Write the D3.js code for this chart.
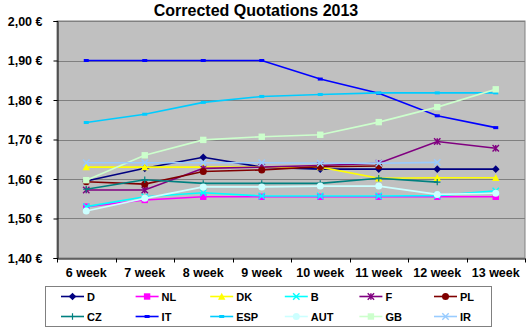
<!DOCTYPE html>
<html>
<head>
<meta charset="utf-8">
<script src="https://cdn.jsdelivr.net/npm/d3@7"></script>
<style>
  body { margin: 0; background: #fff; }
  text { font-family: "Liberation Sans", Arial, sans-serif; font-weight: bold; fill: #000; }
</style>
</head>
<body>
<div id="chart"></div>
<script>
// weekly quotations per country (EUR)
var weeks = ["6 week", "7 week", "8 week", "9 week", "10 week", "11 week", "12 week", "13 week"];
var yTicks = [1.40, 1.50, 1.60, 1.70, 1.80, 1.90, 2.00];

var D   = [1.595, 1.627, 1.655, 1.630, 1.625, 1.625, 1.625, 1.625];
var NL  = [1.530, 1.547, 1.555, 1.555, 1.555, 1.555, 1.555, 1.555];
var DK  = [1.630, 1.630, 1.630, 1.630, 1.630, 1.602, 1.603, 1.603];
var B   = [1.530, 1.555, 1.565, 1.557, 1.557, 1.557, 1.558, 1.570];
var F   = [1.572, 1.572, 1.627, 1.630, 1.634, 1.640, 1.695, 1.678];
var PL  = [1.593, 1.587, 1.619, 1.623, 1.631, 1.633, null, null];
var CZ  = [1.574, 1.598, 1.589, 1.589, 1.589, 1.602, 1.592, null];
var IT  = [1.900, 1.900, 1.900, 1.900, 1.853, 1.817, 1.760, 1.730];
var ESP = [1.743, 1.764, 1.794, 1.809, 1.814, 1.818, 1.818, 1.818];
var AUT = [1.519, 1.551, 1.580, 1.580, 1.582, 1.582, 1.561, 1.564];
var GB  = [1.597, 1.660, 1.699, 1.707, 1.712, 1.744, 1.782, 1.827];
var IR  = [1.641, 1.641, 1.641, 1.641, 1.640, 1.640, 1.642, null];

var series = [
  { name: "D",   values: D,   color: "#000080", mark: "diamond" },
  { name: "NL",  values: NL,  color: "#ff00ff", mark: "square" },
  { name: "DK",  values: DK,  color: "#ffff00", mark: "triangle" },
  { name: "B",   values: B,   color: "#00ffff", mark: "x" },
  { name: "F",   values: F,   color: "#800080", mark: "star" },
  { name: "PL",  values: PL,  color: "#800000", mark: "circle" },
  { name: "CZ",  values: CZ,  color: "#008080", mark: "plus" },
  { name: "IT",  values: IT,  color: "#0000ff", mark: "dash" },
  { name: "ESP", values: ESP, color: "#00ccff", mark: "dash" },
  { name: "AUT", values: AUT, color: "#ccffff", mark: "circle" },
  { name: "GB",  values: GB,  color: "#ccffcc", mark: "square" },
  { name: "IR",  values: IR,  color: "#99ccff", mark: "x" }
];

var width = 530, height = 332;
var plot = { left: 57, right: 525, top: 21, bottom: 258 };

var svg = d3.select("#chart").append("svg")
    .attr("width", width)
    .attr("height", height);

var x = d3.scaleBand().domain(weeks).range([plot.left, plot.right]);
var y = d3.scaleLinear().domain([1.40, 2.00]).range([plot.bottom, plot.top]);

svg.append("text")
    .attr("x", 256).attr("y", 16)
    .attr("text-anchor", "middle")
    .style("font-size", "16px")
    .text("Corrected Quotations 2013");

// plot background
svg.append("rect")
    .attr("x", plot.left).attr("y", plot.top)
    .attr("width", plot.right - plot.left).attr("height", plot.bottom - plot.top)
    .attr("fill", "#c0c0c0")
    .attr("stroke", "#808080");

// gridlines
svg.append("g").selectAll("line")
  .data(yTicks.slice(1))
  .enter().append("line")
    .attr("x1", plot.left).attr("x2", plot.right)
    .attr("y1", function(d) { return Math.round(y(d)) + 0.5; })
    .attr("y2", function(d) { return Math.round(y(d)) + 0.5; })
    .attr("stroke", "#808080");

var fmt = function(d) { return d3.format(".2f")(d).replace(".", ",") + " €"; };

var yAxis = svg.append("g")
    .attr("transform", "translate(" + (plot.left + 0.5) + ",0)")
    .call(d3.axisLeft(y).tickValues(yTicks).tickFormat(fmt).tickSize(4).tickPadding(11));
yAxis.selectAll("text").style("font-size", "12.5px").style("font-family", "Liberation Sans, Arial").attr("dy", "0.35em");
yAxis.selectAll("line, path").attr("stroke", "#000");

var xAxis = svg.append("g")
    .attr("transform", "translate(0," + (plot.bottom + 0.5) + ")")
    .call(d3.axisBottom(x).tickSize(0).tickPadding(10).tickSizeOuter(0));
xAxis.select(".domain").attr("stroke", "#000");
xAxis.selectAll("text").style("font-size", "12.5px").style("font-family", "Liberation Sans, Arial");
// category separators below the axis
xAxis.selectAll(".sep")
  .data(weeks.concat(["end"]))
  .enter().append("line")
    .attr("class", "sep")
    .attr("x1", function(d, i) { return Math.round(plot.left + i * x.bandwidth()) + 0.5; })
    .attr("x2", function(d, i) { return Math.round(plot.left + i * x.bandwidth()) + 0.5; })
    .attr("y1", 0).attr("y2", 4)
    .attr("stroke", "#000");

function drawMark(g, type, color, cx, cy) {
  var s = 3.2;
  if (type === "diamond") {
    g.append("path").attr("d", "M" + cx + "," + (cy - s - 0.6) + "L" + (cx + s + 0.6) + "," + cy + "L" + cx + "," + (cy + s + 0.6) + "L" + (cx - s - 0.6) + "," + cy + "Z")
      .attr("fill", color);
  } else if (type === "square") {
    g.append("rect").attr("x", cx - s).attr("y", cy - s).attr("width", 2 * s).attr("height", 2 * s)
      .attr("fill", color);
  } else if (type === "triangle") {
    g.append("path").attr("d", "M" + cx + "," + (cy - s - 0.5) + "L" + (cx + s + 0.5) + "," + (cy + s) + "L" + (cx - s - 0.5) + "," + (cy + s) + "Z")
      .attr("fill", color);
  } else if (type === "circle") {
    g.append("circle").attr("cx", cx).attr("cy", cy).attr("r", s + 0.3).attr("fill", color);
  } else if (type === "x" || type === "star") {
    var p = "M" + (cx - s) + "," + (cy - s) + "L" + (cx + s) + "," + (cy + s) + "M" + (cx + s) + "," + (cy - s) + "L" + (cx - s) + "," + (cy + s);
    if (type === "star") p += "M" + cx + "," + (cy - s) + "L" + cx + "," + (cy + s);
    g.append("path").attr("d", p).attr("stroke", color).attr("stroke-width", 1.4).attr("fill", "none");
  } else if (type === "plus") {
    g.append("path").attr("d", "M" + (cx - s) + "," + cy + "L" + (cx + s) + "," + cy + "M" + cx + "," + (cy - s) + "L" + cx + "," + (cy + s))
      .attr("stroke", color).attr("stroke-width", 1.2).attr("fill", "none");
  } else if (type === "dash") {
    g.append("rect").attr("x", cx - 2.5).attr("y", cy - 1.5).attr("width", 5).attr("height", 3).attr("fill", color);
  }
}

var line = d3.line()
    .defined(function(d) { return d != null; })
    .x(function(d, i) { return x(weeks[i]) + x.bandwidth() / 2; })
    .y(function(d) { return y(d); });

series.forEach(function(s) {
  var g = svg.append("g");
  g.append("path")
    .attr("d", line(s.values))
    .attr("fill", "none")
    .attr("stroke", s.color)
    .attr("stroke-width", 1.6);
  s.values.forEach(function(v, i) {
    if (v == null) return;
    drawMark(g, s.mark, s.color, x(weeks[i]) + x.bandwidth() / 2, y(v));
  });
});

// legend
var legend = svg.append("g");
legend.append("rect")
    .attr("x", 45.5).attr("y", 286.5).attr("width", 446).attr("height", 40)
    .attr("fill", "#fff").attr("stroke", "#808080");

series.forEach(function(s, i) {
  var col = i % 6, row = Math.floor(i / 6);
  var lx = 61 + col * 74.6, ly = 296.5 + row * 20;
  var g = legend.append("g");
  g.append("line").attr("x1", lx).attr("x2", lx + 23).attr("y1", ly).attr("y2", ly)
    .attr("stroke", s.color).attr("stroke-width", 1.6);
  drawMark(g, s.mark, s.color, lx + 11.5, ly);
  g.append("text").attr("x", lx + 26).attr("y", ly + 4)
    .style("font-size", "11px")
    .text(s.name);
});
</script>
</body>
</html>
